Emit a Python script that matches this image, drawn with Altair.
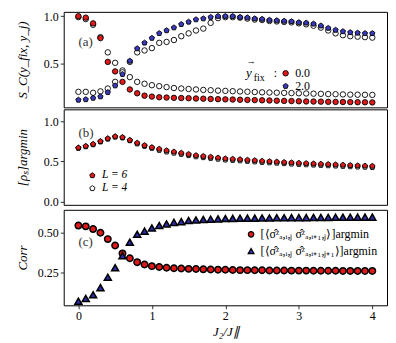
import altair as alt
import pandas as pd

# ---------------- data ----------------
J = [0.0, 0.1, 0.2, 0.3, 0.4, 0.5, 0.6, 0.7, 0.8, 0.9,
     1.0, 1.1, 1.2, 1.3, 1.4, 1.5, 1.6, 1.7, 1.8, 1.9,
     2.0, 2.1, 2.2, 2.3, 2.4, 2.5, 2.6, 2.7, 2.8, 2.9,
     3.0, 3.1, 3.2, 3.3, 3.4, 3.5, 3.6, 3.7, 3.8, 3.9, 4.0]

# panel (a): S_C for y_fix = 0.0 (red) and 2.0 (blue), L=6; open symbols L=4
a_red = [1.00, 0.985, 0.925, 0.77, 0.52, 0.42, 0.31, 0.23, 0.19, 0.165,
         0.155, 0.148, 0.145, 0.142, 0.140, 0.138, 0.135, 0.133, 0.130, 0.128,
         0.126, 0.124, 0.122, 0.120, 0.118, 0.116, 0.114, 0.112, 0.110, 0.108,
         0.106, 0.104, 0.103, 0.102, 0.100, 0.099, 0.098, 0.097, 0.096, 0.095, 0.094]
a_blue = [0.12, 0.125, 0.14, 0.155, 0.20, 0.27, 0.39, 0.53, 0.66, 0.72,
          0.77, 0.82, 0.85, 0.88, 0.915, 0.94, 0.965, 0.975, 0.99, 1.00,
          1.00, 1.00, 0.99, 0.985, 0.975, 0.97, 0.96, 0.955, 0.95, 0.945,
          0.935, 0.93, 0.92, 0.90, 0.875, 0.855, 0.84, 0.83, 0.825, 0.82, 0.82]
a_open_red = [0.99, 0.97, 0.91, 0.78, 0.62, 0.51, 0.43, 0.36, 0.31, 0.29,
              0.275, 0.265, 0.255, 0.245, 0.24, 0.235, 0.23, 0.225, 0.222, 0.218,
              0.215, 0.212, 0.209, 0.206, 0.203, 0.2, 0.198, 0.196, 0.194, 0.192,
              0.19, 0.188, 0.186, 0.184, 0.182, 0.18, 0.178, 0.176, 0.175, 0.174, 0.173]
a_open_blue = [0.205, 0.205, 0.195, 0.21, 0.24, 0.31, 0.41, 0.52, 0.62, 0.64,
               0.665, 0.72, 0.73, 0.75, 0.79, 0.82, 0.85, 0.87, 0.93, 0.98,
               0.99, 0.99, 0.985, 0.975, 0.965, 0.96, 0.95, 0.945, 0.94, 0.935,
               0.925, 0.915, 0.90, 0.88, 0.85, 0.82, 0.80, 0.79, 0.785, 0.78, 0.775]

# panel (b): [rho_s]_argmin for L=6 and L=4
b_L6 = [0.67, 0.69, 0.715, 0.75, 0.785, 0.81, 0.80, 0.765, 0.73, 0.70,
        0.675, 0.655, 0.635, 0.62, 0.605, 0.59, 0.575, 0.565, 0.555, 0.545,
        0.535, 0.53, 0.525, 0.518, 0.512, 0.505, 0.50, 0.495, 0.49, 0.485,
        0.48, 0.476, 0.472, 0.468, 0.464, 0.46, 0.456, 0.452, 0.448, 0.445, 0.442]
b_L4 = [0.665, 0.685, 0.71, 0.745, 0.78, 0.805, 0.795, 0.76, 0.72, 0.69,
        0.665, 0.64, 0.62, 0.605, 0.59, 0.575, 0.56, 0.55, 0.54, 0.53,
        0.52, 0.515, 0.51, 0.503, 0.497, 0.49, 0.485, 0.48, 0.475, 0.47,
        0.465, 0.461, 0.457, 0.453, 0.449, 0.445, 0.441, 0.437, 0.433, 0.43, 0.427]

# panel (c): correlations
c_nn = [0.545, 0.54, 0.523, 0.50, 0.46, 0.42, 0.37, 0.34, 0.315, 0.30,
        0.29, 0.285, 0.28, 0.277, 0.275, 0.273, 0.272, 0.27, 0.269, 0.268,
        0.267, 0.266, 0.265, 0.265, 0.264, 0.264, 0.263, 0.263, 0.263, 0.262,
        0.262, 0.262, 0.261, 0.261, 0.261, 0.261, 0.26, 0.26, 0.26, 0.26, 0.26]
c_diag = [0.07, 0.087, 0.11, 0.155, 0.22, 0.28, 0.356, 0.44, 0.49, 0.51,
          0.53, 0.545, 0.555, 0.565, 0.57, 0.577, 0.58, 0.583, 0.585, 0.587,
          0.589, 0.59, 0.591, 0.592, 0.592, 0.593, 0.593, 0.594, 0.594, 0.595,
          0.595, 0.595, 0.596, 0.596, 0.596, 0.597, 0.597, 0.597, 0.598, 0.598, 0.598]

x_ticks = [0, 1, 2, 3, 4]
a_ticks = [0.5, 1.0]
b_ticks = [0.0, 0.5, 1.0]
c_ticks = [0.25, 0.50]

legend_a = ["0.0", "2.0"]
legend_b = ["L = 6", "L = 4"]
legend_c = ["[⟨σ̂ᶻₐ,ᵢ,ⱼ σ̂ᶻₐ,ᵢ₊₁,ⱼ⟩]argmin", "[⟨σ̂ᶻₐ,ᵢ,ⱼ σ̂ᶻₐ,ᵢ₊₁,ⱼ₊₁⟩]argmin"]

# ---------------- style ----------------
RED = "#e01a1a"
BLUE = "#3a3ac0"
TRI = "#2c2ca8"
FONT = "Liberation Serif"
W, H = 325, 96
PENT = "M0,-1L0.951,-0.309L0.588,0.809L-0.588,0.809L-0.951,-0.309Z"

xscale = alt.Scale(domain=[-0.2, 4.2], nice=False, zero=False)


def yaxis(title, values, fmt):
    return alt.Axis(title=title, values=values, format=fmt, grid=False, domain=False,
                    ticks=True, tickSize=3.5, tickColor="black", tickWidth=0.8,
                    labelFont=FONT, labelFontSize=12, labelColor="black", labelPadding=2,
                    titleFont=FONT, titleFontSize=13, titleFontStyle="italic",
                    titleFontWeight="normal", titleColor="black",
                    titleX=-34, titleY=H / 2, titleAngle=270, titleAlign="center",
                    titleBaseline="bottom", minExtent=55, maxExtent=55)


xaxis_bottom = alt.Axis(values=x_ticks, format="d", grid=False, domain=False,
                        tickSize=3.5, tickColor="black", tickWidth=0.8,
                        labelFont=FONT, labelFontSize=12, labelColor="black", labelPadding=2,
                        title="J₂/J∥", titleFont=FONT, titleFontSize=13,
                        titleFontStyle="italic", titleFontWeight="normal",
                        titleColor="black", titlePadding=4)


def pts(df, field, yscale, yax, xax, fill, shape, size, sw=0.9, stroke="black"):
    return alt.Chart(df).mark_point(filled=True, fill=fill, stroke=stroke, strokeWidth=sw,
                                    shape=shape, size=size, opacity=1).encode(
        x=alt.X("J:Q", scale=xscale, axis=xax),
        y=alt.Y(f"{field}:Q", scale=yscale, axis=yax),
    )


def txt(df, yscale, yax, xax, size=12, style="normal", align="left", color="black"):
    return alt.Chart(df).mark_text(font=FONT, fontSize=size, fontStyle=style, align=align,
                                   baseline="middle", color=color).encode(
        x=alt.X("J:Q", scale=xscale, axis=xax),
        y=alt.Y("v:Q", scale=yscale, axis=yax),
        text="t:N",
    )


# ---------------- panel (a) ----------------
dfa = pd.DataFrame({"J": J, "red": a_red, "blue": a_blue,
                    "ored": a_open_red, "oblue": a_open_blue})
ya = alt.Scale(domain=[0.042, 1.046], nice=False, zero=False)
ax_a = yaxis("S_C(y_fix, y_j)", a_ticks, ".1f")

LA1, LA2 = 0.40, 0.265
leg_a_pts = pd.DataFrame({"J": [2.82, 2.82], "v": [LA1, LA2]})
leg_a_red = pts(leg_a_pts.iloc[[0]], "v", ya, ax_a, None, RED, "circle", 30)
leg_a_blue = pts(leg_a_pts.iloc[[1]], "v", ya, ax_a, None, BLUE, PENT, 30)
leg_a_lab = txt(pd.DataFrame({"J": [2.95, 2.95], "v": [LA1, LA2], "t": legend_a}),
                ya, ax_a, None)
leg_a_y = txt(pd.DataFrame({"J": [2.28], "v": [LA1 + 0.005], "t": ["y"]}), ya, ax_a, None,
              size=13, style="italic")
leg_a_arrow = txt(pd.DataFrame({"J": [2.29], "v": [LA1 + 0.125], "t": ["→"]}), ya, ax_a, None,
                  size=9)
leg_a_fix = txt(pd.DataFrame({"J": [2.385], "v": [LA1 - 0.05], "t": ["fix"]}), ya, ax_a, None,
                size=10)
leg_a_col = txt(pd.DataFrame({"J": [2.66], "v": [LA1], "t": [":"]}), ya, ax_a, None)
lab_a = txt(pd.DataFrame({"J": [0.0], "v": [0.73], "t": ["(a)"]}), ya, ax_a, None,
            size=13, color="#333333")

panel_a = alt.layer(
    pts(dfa, "ored", ya, ax_a, None, "white", "circle", 30),
    pts(dfa, "oblue", ya, ax_a, None, "white", "circle", 30),
    pts(dfa, "red", ya, ax_a, None, RED, "circle", 30),
    pts(dfa, "blue", ya, ax_a, None, BLUE, PENT, 30),
    leg_a_red, leg_a_blue, leg_a_lab, leg_a_y, leg_a_arrow, leg_a_fix, leg_a_col, lab_a,
).properties(width=W, height=H)

# ---------------- panel (b) ----------------
dfb = pd.DataFrame({"J": J, "L6": b_L6, "L4": b_L4})
yb = alt.Scale(domain=[-0.04, 1.148], nice=False, zero=False)
ax_b = yaxis("[ρₛ]argmin", b_ticks, ".1f")

LB1, LB2 = 0.325, 0.165
leg_b_pts = pd.DataFrame({"J": [0.19, 0.19], "v": [LB1, LB2]})
panel_b = alt.layer(
    pts(dfb, "L4", yb, ax_b, None, "white", PENT, 30),
    pts(dfb, "L6", yb, ax_b, None, RED, PENT, 30),
    pts(leg_b_pts.iloc[[0]], "v", yb, ax_b, None, RED, PENT, 30),
    pts(leg_b_pts.iloc[[1]], "v", yb, ax_b, None, "white", PENT, 30),
    txt(pd.DataFrame({"J": [0.32, 0.32], "v": [LB1, LB2], "t": legend_b}), yb, ax_b, None,
        size=11.5, style="italic"),
    txt(pd.DataFrame({"J": [0.0], "v": [0.85], "t": ["(b)"]}), yb, ax_b, None,
        size=13, color="#333333"),
).properties(width=W, height=H)

# ---------------- panel (c) ----------------
dfc = pd.DataFrame({"J": J, "nn": c_nn, "diag": c_diag})
yc = alt.Scale(domain=[0.044, 0.644], nice=False, zero=False)
ax_c = yaxis("Corr", c_ticks, ".2f")

leg_c_pts = pd.DataFrame({"J": [2.35, 2.35], "v": [0.49, 0.385]})
panel_c = alt.layer(
    pts(dfc, "nn", yc, ax_c, xaxis_bottom, RED, "circle", 42, sw=1.5),
    pts(dfc, "diag", yc, ax_c, xaxis_bottom, TRI, "triangle-up", 50, sw=1.5),
    pts(leg_c_pts.iloc[[0]], "v", yc, ax_c, xaxis_bottom, RED, "circle", 30, sw=1.2),
    pts(leg_c_pts.iloc[[1]], "v", yc, ax_c, xaxis_bottom, TRI, "triangle-up", 34, sw=1.2),
    txt(pd.DataFrame({"J": [2.48, 2.48], "v": [0.49, 0.385], "t": legend_c}), yc, ax_c,
        xaxis_bottom, size=12),
    txt(pd.DataFrame({"J": [0.0], "v": [0.444], "t": ["(c)"]}), yc, ax_c, xaxis_bottom,
        size=13, color="#333333"),
).properties(width=W, height=H)

chart = alt.vconcat(panel_a, panel_b, panel_c, spacing=0).properties(
    padding={"left": 0, "top": 0, "right": 0, "bottom": 0}
).configure_view(stroke="black", strokeWidth=1)

chart.save("out.html", embed_options={"renderer": "svg", "actions": False})
